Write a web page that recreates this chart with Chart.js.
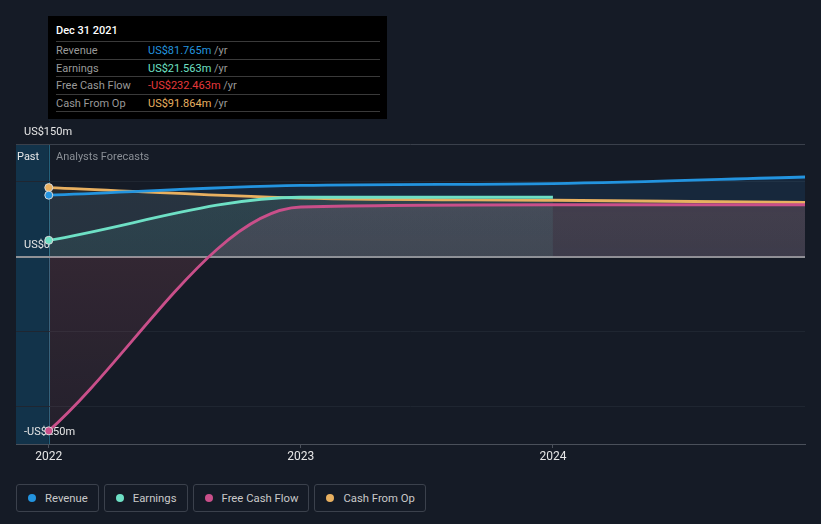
<!DOCTYPE html>
<html>
<head>
<meta charset="utf-8">
<script src="https://cdn.jsdelivr.net/npm/chart.js@4.4.1/dist/chart.umd.min.js"></script>
<style>
  body { margin: 0; background: #151b26; font-family: Roboto, "Noto Sans", sans-serif; }
  #wrap { position: relative; width: 821px; height: 524px; overflow: hidden; }
  #chartBox { position: absolute; left: 0; top: 0; width: 821px; height: 470px; }
  #tip { position: absolute; left: 48px; top: 16px; width: 339px; height: 103px; background: #000; }
  #tip .t { position: absolute; left: 8px; top: 8px; color: #fff; font-size: 11px; font-weight: 500; }
  #tip .rows { position: absolute; left: 8px; top: 25px; width: 324px; }
  #tip .row { height: 16.5px; line-height: 17px; border-top: 1px solid #3a3a3a; font-size: 11px; color: #999; white-space: nowrap; }
  #tip .row:last-child { border-bottom: 1px solid #3a3a3a; }
  #tip .l { display: inline-block; width: 92px; }
  .past { position: absolute; left: 17px; top: 150px; color: #e8e8e8; font-size: 11px; }
  .fc { position: absolute; left: 56px; top: 150px; color: #8a8f96; font-size: 11px; }
  #legend { position: absolute; left: 16px; top: 484px; display: flex; gap: 5px; }
  #legend .item { height: 26px; border: 1px solid #3b414c; border-radius: 3px; display: flex; align-items: center; padding: 0 10px 0 11px; color: #c9c9c9; font-size: 11.3px; }
  #legend .dot { width: 8px; height: 8px; border-radius: 50%; margin-right: 9px; }
</style>
</head>
<body>
<div id="wrap">
  <div id="chartBox"><canvas id="financeChart"></canvas></div>
  <div class="past">Past</div>
  <div class="fc">Analysts Forecasts</div>
  <div id="tip">
    <div class="t">Dec 31 2021</div>
    <div class="rows">
      <div class="row"><span class="l">Revenue</span><span style="color:#2394df">US$81.765m</span> /yr</div>
      <div class="row"><span class="l">Earnings</span><span style="color:#6ee0c5">US$21.563m</span> /yr</div>
      <div class="row"><span class="l">Free Cash Flow</span><span style="color:#e5383b">-US$232.463m</span> /yr</div>
      <div class="row"><span class="l">Cash From Op</span><span style="color:#e8b060">US$91.864m</span> /yr</div>
    </div>
  </div>
  <div id="legend"></div>
</div>
<script>
const years = [2022, 2023, 2024, 2025];
const revenue = [81.765, 94.7, 97.3, 106];
const earnings = [21.563, 79, 79, null];
const freeCashFlow = [-232.463, 66, 69, 69];
const cashFromOp = [91.864, 78, 75, 72];
const yTicks = [-250, -200, -100, 0, 100, 150];
const yLabels = { '150': 'US$150m', '0': 'US$0', '-250': '-US$250m' };
const xTicks = [2022, 2023, 2024];

const names = ['Revenue', 'Earnings', 'Free Cash Flow', 'Cash From Op'];
const colors = ['#2394df', '#6ee0c5', '#c94f8a', '#e8b060'];

function pts(arr) {
    return years.map((x, i) => ({ x: x, y: arr[i] }));
}

// vertical gradient for area fills, stronger at top
function grad(rgb, aTop, aBottom) {
    return (c) => {
        const area = c.chart.chartArea;
        if (!area) return 'rgba(' + rgb + ',' + aTop + ')';
        const g = c.chart.ctx.createLinearGradient(0, area.top, 0, area.bottom);
        g.addColorStop(0, 'rgba(' + rgb + ',' + aTop + ')');
        g.addColorStop(1, 'rgba(' + rgb + ',' + aBottom + ')');
        return g;
    };
}

function line(label, arr, color, fillColor) {
    return {
        label: label,
        data: pts(arr),
        borderColor: color,
        backgroundColor: fillColor,
        fill: 'origin',
        borderWidth: 2.8,
        cubicInterpolationMode: 'monotone',
        pointRadius: [4, 0, 0, 0],
        pointBackgroundColor: color,
        pointBorderColor: '#d8d8d8',
        pointBorderWidth: 1,
        spanGaps: false
    };
}

const pastShade = {
    id: 'pastShade',
    beforeDraw(chart) {
        const { ctx, chartArea, scales } = chart;
        const x0 = scales.x.getPixelForValue(2022);
        ctx.save();
        ctx.fillStyle = '#12334a';
        ctx.fillRect(chartArea.left, chartArea.top, x0 - chartArea.left, chartArea.bottom - chartArea.top);
        ctx.strokeStyle = '#23607a';
        ctx.lineWidth = 1;
        ctx.beginPath();
        ctx.moveTo(Math.round(x0) + 0.5, chartArea.top);
        ctx.lineTo(Math.round(x0) + 0.5, chartArea.bottom);
        ctx.stroke();
        ctx.restore();
    }
};

new Chart(document.getElementById('financeChart'), {
    type: 'line',
    data: {
        datasets: [
            line('Revenue', revenue, colors[0], 'rgba(40,130,210,0.13)'),
            line('Earnings', earnings, colors[1], grad('110,224,197', 0.11, 0.04)),
            line('Free Cash Flow', freeCashFlow, colors[2], grad('225,110,130', 0.19, 0.07)),
            line('Cash From Op', cashFromOp, colors[3], grad('232,176,96', 0.10, 0.05))
        ]
    },
    options: {
        responsive: true,
        maintainAspectRatio: false,
        animation: false,
        layout: { padding: { left: 16, right: 16, top: 144, bottom: 0 } },
        scales: {
            x: {
                type: 'linear',
                min: 2021.87,
                max: 2025,
                afterBuildTicks: (scale) => { scale.ticks = xTicks.map(v => ({ value: v })); },
                afterFit: (scale) => { scale.height = 26; },
                grid: { drawOnChartArea: false, drawTicks: true, tickLength: 4, color: '#4a505a' },
                border: { color: '#4a505a' },
                ticks: {
                    color: '#e6e6e6',
                    font: { family: 'Roboto', size: 12 },
                    padding: 2,
                    callback: (v) => String(v)
                }
            },
            y: {
                min: -250,
                max: 150,
                afterBuildTicks: (scale) => { scale.ticks = yTicks.map(v => ({ value: v })); },
                afterFit: (scale) => { scale.width = 0; },
                border: { display: false },
                grid: {
                    drawTicks: false,
                    color: (c) => c.tick.value === 0 ? '#8f9196' : (c.tick.value === 150 ? '#3a404b' : (c.tick.value === -250 ? 'transparent' : '#1f2631')),
                    lineWidth: (c) => c.tick.value === 0 ? 2 : 1
                },
                ticks: {
                    mirror: true,
                    padding: 8,
                    labelOffset: -11.5,
                    color: '#e6e6e6',
                    font: { family: 'Roboto', size: 11 },
                    callback: (v) => yLabels[String(v)] || ''
                }
            }
        },
        plugins: {
            legend: { display: false },
            tooltip: { enabled: false },
            filler: { drawTime: 'beforeDatasetsDraw' }
        }
    },
    plugins: [pastShade]
});

const legend = document.getElementById('legend');
names.forEach((n, i) => {
    const item = document.createElement('div');
    item.className = 'item';
    item.innerHTML = '<span class="dot" style="background:' + colors[i] + '"></span>' + n;
    legend.appendChild(item);
});
</script>
</body>
</html>
